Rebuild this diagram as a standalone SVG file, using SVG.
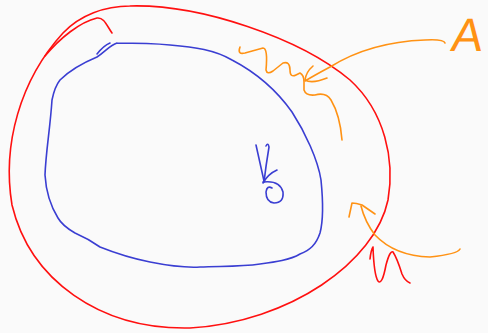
<svg xmlns="http://www.w3.org/2000/svg" width="488" height="333" viewBox="0 0 488 333">
<style>
.s{fill:none;stroke-linecap:round;stroke-linejoin:round;stroke-width:1.6}
.r{stroke:#ff1010}
.b{stroke:#3a3ed2}
.o{stroke:#ff9214}
</style>
<rect width="488" height="333" fill="#fafafa"/>
<g id="outer">
<path class="s r" d="M130,6 C200,4 300,38 350,80 C385,112 395,160 388,200 C375,262 290,322 190,328 C100,330 30,280 12,205 C2,145 20,80 63,33 C80,15 105,6 130,6"/>
<path class="s r" d="M45,56 C60,38 80,22 97,18 C104,17 107,26 112,33"/>
<path class="s r" d="M370,259 Q371,250 373,247 Q374,275 378,281 Q382,286 386,265 Q390,250 393,252 Q397,258 402,274 Q405,281 410,283"/>
</g>
<g id="inner">
<path class="s b" d="M117,43 C140,43 160,44 170,45 C195,47 215,50 232,60 C255,72 275,88 292,112 C305,132 318,160 321,180 C323,200 324,218 320,233 C316,245 310,250 300,254 C290,260 275,262 260,264 C240,267 220,266 200,267 C183,268 165,265 150,262 C130,258 115,253 100,247 C90,240 82,236 75,233 C68,229 62,225 58,218 C50,205 46,192 45,175 C46,150 50,130 52,100 C54,90 56,85 60,80 C70,70 85,62 97,57 C105,52 110,45 117,43"/>
<path class="s b" d="M97,54 C101,49 105,45 110,43"/>
<path class="s b" d="M256,145 L264,181"/>
<path class="s b" d="M266,146 Q268,142 269,147 Q266,165 264,182"/>
<path class="s b" d="M277,170 Q268,174 263,183"/>
<path class="s b" d="M263,182 Q280,180 283,192 Q284,203 274,203 Q266,202 266,192 Q267,185 272,188"/>
</g>
<g id="annotations">
<path class="s o" d="M240,47 Q237,55 245,53 L263,48 Q268,48 266,70 Q267,75 273,71 L283,63 Q290,61 290,70 Q290,78 296,75 L300,73 Q304,75 304,82 L304,90 Q306,96 315,95 Q326,92 331,100 Q340,115 342,140"/>
<path class="s o" d="M445,43 Q444,39 425,40 Q370,42 330,67 Q315,75 305,81"/>
<path class="s o" d="M313,66 Q306,72 305,80 Q312,84 327,78"/>
<path class="s o" d="M460,249 Q458,254 430,257 Q395,256 375,235 Q365,222 361,206"/>
<path class="s o" d="M349,217 L352,203 Q356,203 362,205 L375,214"/>
<text x="452" y="51" font-family="Liberation Sans, sans-serif" font-size="47" fill="#ff9214" transform="skewX(-8) translate(5,0)">A</text>
</g>
</svg>
